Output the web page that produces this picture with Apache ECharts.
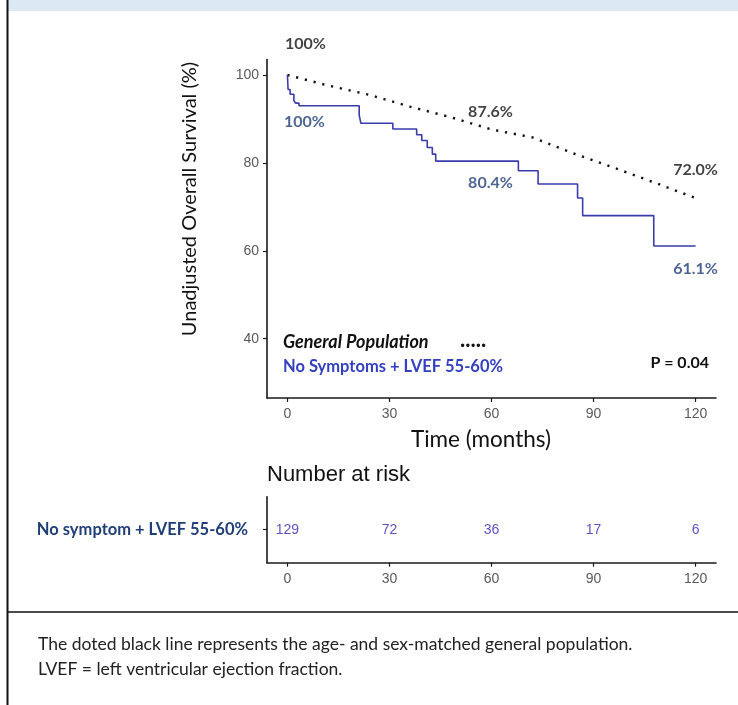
<!DOCTYPE html>
<html>
<head>
<meta charset="utf-8">
<title>Unadjusted overall survival</title>
<script src="https://cdn.jsdelivr.net/npm/echarts@6/dist/echarts.min.js"></script>
<style>
  html, body { margin: 0; padding: 0; background: #ffffff; }
  #chart { width: 738px; height: 705px; }
</style>
</head>
<body>
<div id="chart"></div>
<script>
// Axis ticks
const monthTicks = [0, 30, 60, 90, 120];
const survivalTicks = [40, 60, 80, 100];

// Age- and sex-matched general population (expected survival, %)
const popMonths = [0, 12, 24, 36, 48, 60, 72, 84, 96, 108, 120];
const popSurvival = [100, 97.6, 95.5, 92.8, 90.4, 87.6, 85.8, 82.2, 78.9, 75.5, 72.0];

// Kaplan-Meier estimate: no symptoms + LVEF 55-60% (event times in months, survival %)
const kmMonths = [0, 0.2, 0.8, 1.9, 2.4, 3.4, 21.1, 21.6, 31.0, 38.0, 39.5, 41.1, 42.6, 43.6, 67.9, 73.7, 85.3, 86.8, 107.7, 120];
const kmSurvival = [100, 96.7, 95.6, 94.2, 93.6, 93.0, 90.9, 89.0, 87.7, 86.4, 85.1, 83.5, 82.0, 80.4, 78.2, 75.2, 72.0, 68.0, 61.1, 61.1];

// Survival quoted at 0, 5 and 10 years
const quotedMonths = [0, 60, 120];
const popQuoted = [100, 87.6, 72.0];
const kmQuoted = [100, 80.4, 61.1];

// Number at risk
const riskGroup = 'No symptom + LVEF 55-60%';
const riskMonths = [0, 30, 60, 90, 120];
const riskCounts = [129, 72, 36, 17, 6];

const NAVY = '#203f78';
const LINE_BLUE = '#3a3cae';
const TEXT_BLUE = '#3341c0';
const RISK_BLUE = '#3327b8';
const TICK_GREY = '#595959';
const HUMANIST = 'Lato, "Open Sans", sans-serif';
const ARIAL = '"Liberation Sans", Arial, sans-serif';

const pctText = v => (v === 100 ? '100%' : v.toFixed(1) + '%');

// label placement relative to each quoted point
const popOffsets = [[18, -31], [-1, -18], [0, -28]];
const kmOffsets = [[17, 47], [-1, 21.5], [0, 23]];

function quotedSeries(values, offsets, color) {
  return {
    type: 'scatter',
    xAxisIndex: 0, yAxisIndex: 0,
    symbolSize: 0,
    silent: true,
    z: 5,
    data: quotedMonths.map((m, i) => ({
      value: [m, values[i]],
      label: { offset: offsets[i] }
    })),
    label: {
      show: true,
      position: 'inside',
      formatter: p => pctText(p.value[1]),
      color: color,
      fontFamily: HUMANIST,
      fontWeight: 'bold',
      fontSize: 16
    }
  };
}

const axisLine = { show: true, onZero: false, lineStyle: { color: '#1a1a1a', width: 1.6 } };
const axisTick = { show: true, length: 4, lineStyle: { color: '#1a1a1a', width: 1.2 } };
const tickLabel = { color: TICK_GREY, fontFamily: ARIAL, fontSize: 14 };

const chart = echarts.init(document.getElementById('chart'), null, { renderer: 'canvas' });

chart.setOption({
  animation: false,
  backgroundColor: '#ffffff',
  grid: [
    { left: 267, top: 59.6, width: 449, height: 338.4 },
    { left: 267, top: 496.7, width: 449, height: 66 }
  ],
  xAxis: [
    {
      gridIndex: 0, type: 'value', min: -6, max: 126,
      axisLine: axisLine,
      axisTick: Object.assign({ customValues: monthTicks }, axisTick),
      axisLabel: Object.assign({ customValues: monthTicks, margin: 9 }, tickLabel),
      splitLine: { show: false }
    },
    {
      gridIndex: 1, type: 'value', min: -6, max: 126,
      axisLine: axisLine,
      axisTick: Object.assign({ customValues: monthTicks }, axisTick),
      axisLabel: Object.assign({ customValues: monthTicks, margin: 9 }, tickLabel),
      splitLine: { show: false }
    }
  ],
  yAxis: [
    {
      gridIndex: 0, type: 'value', min: 26.5, max: 103.5,
      axisLine: axisLine,
      axisTick: Object.assign({ customValues: survivalTicks }, axisTick),
      axisLabel: Object.assign({ customValues: survivalTicks, margin: 8 }, tickLabel),
      splitLine: { show: false }
    },
    {
      gridIndex: 1, type: 'category', data: [riskGroup],
      axisLine: axisLine,
      axisTick: Object.assign({ alignWithLabel: true }, axisTick),
      axisLabel: {
        margin: 19,
        color: NAVY,
        fontFamily: HUMANIST,
        fontWeight: 'bold',
        fontSize: 16.5
      },
      splitLine: { show: false }
    }
  ],
  series: [
    {
      name: 'General Population',
      type: 'line',
      xAxisIndex: 0, yAxisIndex: 0,
      data: popMonths.map((m, i) => [m, popSurvival[i]]),
      showSymbol: false,
      symbol: 'none',
      lineStyle: { color: '#111111', width: 2.4, type: [2.2, 6.8], cap: 'butt' },
      silent: true
    },
    {
      name: 'No Symptoms + LVEF 55-60%',
      type: 'line',
      step: 'end',
      xAxisIndex: 0, yAxisIndex: 0,
      data: kmMonths.map((m, i) => [m, kmSurvival[i]]),
      showSymbol: false,
      symbol: 'none',
      lineStyle: { color: LINE_BLUE, width: 1.6 },
      silent: true
    },
    quotedSeries(popQuoted, popOffsets, '#111111'),
    quotedSeries(kmQuoted, kmOffsets, NAVY),
    {
      name: 'Number at risk',
      type: 'scatter',
      xAxisIndex: 1, yAxisIndex: 1,
      symbolSize: 0,
      silent: true,
      data: riskMonths.map((m, i) => [m, riskGroup, riskCounts[i]]),
      label: {
        show: true,
        position: 'inside',
        formatter: p => String(p.value[2]),
        color: RISK_BLUE,
        fontFamily: ARIAL,
        fontSize: 14
      }
    }
  ],
  graphic: [
    // panel frame
    { type: 'rect', shape: { x: 8, y: 0, width: 730, height: 11 }, style: { fill: '#dde8f5' }, silent: true },
    { type: 'line', shape: { x1: 7.5, y1: 0, x2: 7.5, y2: 705 }, style: { stroke: '#111111', lineWidth: 2 }, silent: true },
    { type: 'line', shape: { x1: 7, y1: 612, x2: 738, y2: 612 }, style: { stroke: '#111111', lineWidth: 1.5 }, silent: true },
    // axis titles
    {
      type: 'text', x: 190, y: 199, rotation: Math.PI / 2,
      style: { text: 'Unadjusted Overall Survival (%)', x: 0, y: 0, align: 'center', verticalAlign: 'middle',
               fill: '#111111', font: '20px ' + HUMANIST }
    },
    {
      type: 'text', x: 481, y: 440,
      style: { text: 'Time (months)', align: 'center', verticalAlign: 'middle',
               fill: '#111111', font: '22.5px ' + HUMANIST }
    },
    {
      type: 'text', x: 267, y: 475,
      style: { text: 'Number at risk', align: 'left', verticalAlign: 'middle',
               fill: '#111111', font: '22px ' + ARIAL }
    },
    // key
    {
      type: 'text', x: 283, y: 342,
      style: { text: 'General Population', align: 'left', verticalAlign: 'middle',
               fill: '#111111', font: 'italic bold 18px ' + HUMANIST }
    },
    {
      type: 'text', x: 460, y: 340,
      style: { text: '.....', align: 'left', verticalAlign: 'middle',
               fill: '#111111', font: 'bold 22px ' + HUMANIST }
    },
    {
      type: 'text', x: 283, y: 367,
      style: { text: 'No Symptoms + LVEF 55-60%', align: 'left', verticalAlign: 'middle',
               fill: TEXT_BLUE, font: 'bold 16.5px ' + HUMANIST }
    },
    {
      type: 'text', x: 709, y: 363,
      style: { text: 'P = 0.04', align: 'right', verticalAlign: 'middle',
               fill: '#111111', font: 'bold 16px ' + HUMANIST }
    },
    // caption
    {
      type: 'text', x: 38, y: 644,
      style: { text: 'The doted black line represents the age- and sex-matched general population.',
               align: 'left', verticalAlign: 'middle', fill: '#222222', font: '17.5px ' + HUMANIST }
    },
    {
      type: 'text', x: 38, y: 669,
      style: { text: 'LVEF = left ventricular ejection fraction.',
               align: 'left', verticalAlign: 'middle', fill: '#222222', font: '17.5px ' + HUMANIST }
    }
  ]
});
</script>
</body>
</html>
